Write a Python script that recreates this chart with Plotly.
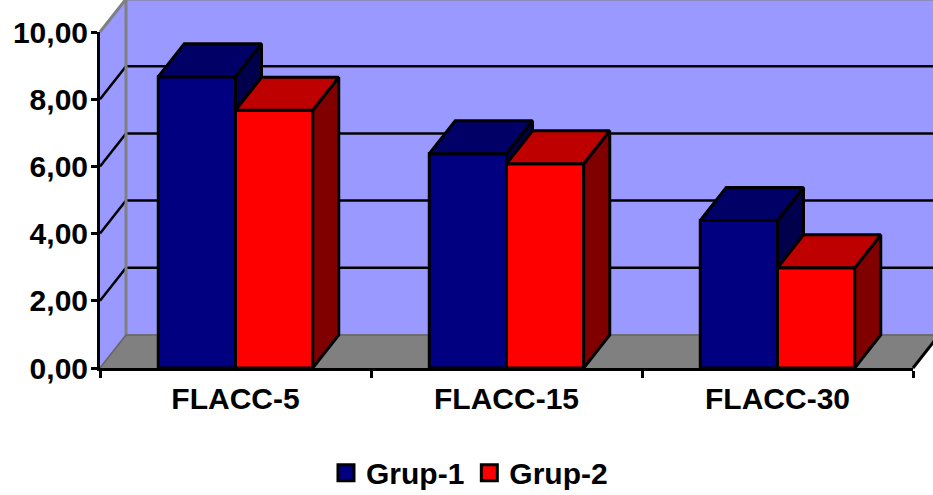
import plotly.graph_objects as go

categories = ["FLACC-5", "FLACC-15", "FLACC-30"]
grup1 = [8.67, 6.38, 4.39]
grup2 = [7.67, 6.08, 2.98]
y_ticks = [0, 2, 4, 6, 8, 10]
series_names = ["Grup-1", "Grup-2"]

BAR_W = 0.285
DX = 26 / 271          # oblique depth, x axis units
DY = 33 / 33.6         # oblique depth, y axis units
LW = 3
FONT = dict(family="Liberation Sans, Arial, sans-serif", size=30, color="black", weight=700)

xpos = list(range(len(categories)))
XMIN, XMAX = -0.5, 2.5
YMIN, YMAX = 0, 10


def px(x):
    return (x - XMIN) / (XMAX - XMIN)


def py(y):
    return (y - YMIN) / (YMAX - YMIN)


def poly(points, fill, line=None, layer="below"):
    path = "M" + " L".join(f"{px(x):.5f},{py(y):.5f}" for x, y in points) + " Z"
    return dict(type="path", xref="paper", yref="paper", path=path, fillcolor=fill,
                line=dict(color=line or fill, width=1.5), layer=layer)


def seg(x0, y0, x1, y1, color, width=2.5):
    return dict(type="line", xref="paper", yref="paper", x0=px(x0), y0=py(y0), x1=px(x1), y1=py(y1),
                line=dict(color=color, width=width), layer="below")


WALL, FLOOR, EDGE = "#9999FF", "#808080", "#808080"
shapes = [
    poly([(XMIN, YMIN), (XMIN + DX, YMIN + DY), (XMIN + DX, YMAX + DY), (XMIN, YMAX)], WALL),
    poly([(XMIN + DX, YMIN + DY), (XMAX + DX, YMIN + DY), (XMAX + DX, YMAX + DY), (XMIN + DX, YMAX + DY)], WALL),
    poly([(XMIN, YMIN), (XMAX, YMIN), (XMAX + DX, YMIN + DY), (XMIN + DX, YMIN + DY)], FLOOR),
]
for t in y_ticks[1:-1]:
    shapes.append(seg(XMIN, t, XMIN + DX, t + DY, "black"))
    shapes.append(seg(XMIN + DX, t + DY, XMAX + DX, t + DY, "black"))
shapes += [
    seg(XMIN + DX, YMIN + DY, XMIN + DX, YMAX + DY, EDGE, 3),
    seg(XMIN + DX, YMAX + DY, XMAX + DX, YMAX + DY, EDGE, 3),
    seg(XMIN, YMAX, XMIN + DX, YMAX + DY, EDGE, 3),
    seg(XMIN, YMIN, XMIN + DX, YMIN + DY, "#666666", 1.5),
    seg(XMIN + DX, YMIN + DY, XMAX + DX, YMIN + DY, "#666666", 1.5),
    seg(XMAX, YMIN, XMAX + DX, YMIN + DY, "black", 3),
]


def faces(left, values, floors):
    """Top and side polygons of oblique bars, with the side starting at its visible floor."""
    tx, ty, sx, sy = [], [], [], []
    for x0, v, f in zip(left, values, floors):
        x1 = x0 + BAR_W
        tx += [x0, x1, x1 + DX, x0 + DX, x0, None]
        ty += [v, v, v + DY, v + DY, v, None]
        sx += [x1, x1 + DX, x1 + DX, x1, x1, None]
        sy += [v, v + DY, f + DY, f, v, None]
    return tx, ty, sx, sy


def face_trace(x, y, color):
    return go.Scatter(x=x, y=y, mode="lines", fill="toself", fillcolor=color,
                      line=dict(color="black", width=LW), cliponaxis=False,
                      showlegend=False, hoverinfo="skip")


fig = go.Figure()
fig.add_bar(x=xpos, y=grup1, name=series_names[0], marker=dict(color="#000080", line=dict(color="black", width=LW)), showlegend=False)
fig.add_bar(x=xpos, y=grup2, name=series_names[1], marker=dict(color="#FF0000", line=dict(color="black", width=LW)), showlegend=False)

left1 = [x - BAR_W for x in xpos]
left2 = list(xpos)
t1x, t1y, s1x, s1y = faces(left1, grup1, grup2)
t2x, t2y, s2x, s2y = faces(left2, grup2, [0] * len(grup2))
fig.add_trace(face_trace(s1x, s1y, "#00004D"))
fig.add_trace(face_trace(t1x, t1y, "#000066"))
fig.add_trace(face_trace(s2x, s2y, "#800000"))
fig.add_trace(face_trace(t2x, t2y, "#BF0000"))

for name, color in zip(series_names, ["#000080", "#FF0000"]):
    fig.add_trace(go.Scatter(x=[None], y=[None], mode="markers", name=name,
                             marker=dict(symbol="square", size=16, color=color, line=dict(color="black", width=3))))

fig.update_layout(
    width=933, height=495,
    margin=dict(l=100, r=20, t=32, b=127),
    paper_bgcolor="white", plot_bgcolor="rgba(0,0,0,0)",
    barmode="group", bargap=1 - 2 * BAR_W, bargroupgap=0,
    separators=",.",
    shapes=shapes,
    font=FONT,
    legend=dict(orientation="h", x=0.5032, xanchor="center", xref="container",
                y=0.045, yanchor="middle", yref="container",
                font=FONT, bgcolor="rgba(0,0,0,0)", itemsizing="trace", itemwidth=30),
    xaxis=dict(range=[XMIN, XMAX], automargin=False, tickmode="array", tickvals=xpos, ticktext=categories, ticks="", showgrid=False,
               zeroline=False, showline=True, linecolor="black", linewidth=LW, tickfont=FONT, ticklabelstandoff=2,
               minor=dict(tickmode="array", tickvals=[-0.5, 0.5, 1.5, 2.5], ticks="outside", ticklen=7,
                          tickwidth=LW, tickcolor="black", showgrid=False)),
    yaxis=dict(range=[YMIN, YMAX], automargin=False, tickmode="array", tickvals=y_ticks, tickformat=".2f", ticks="outside", ticklen=6,
               tickwidth=LW, tickcolor="black", showgrid=False, zeroline=False, showline=True, linecolor="black",
               linewidth=LW, tickfont=FONT, ticklabelstandoff=-3),
)

fig.write_html("out.html", post_script="document.body.style.margin='0';", config=dict(displayModeBar=False))
